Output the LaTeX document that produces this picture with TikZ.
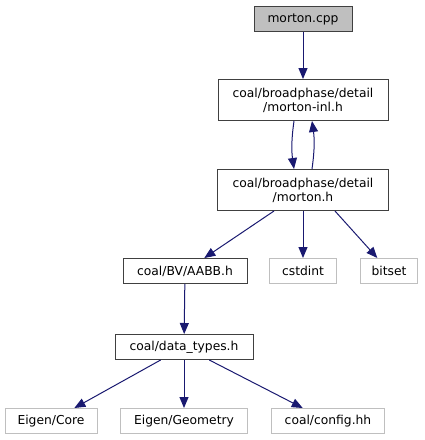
\documentclass[tikz,border=0pt]{standalone}
\usepackage{fontspec}
\setmainfont{DejaVu Sans}
\usetikzlibrary{positioning, arrows.meta}
\definecolor{dEdge}{HTML}{191970}
\definecolor{dGray}{HTML}{BFBFBF}
\definecolor{dLight}{HTML}{BFBFBF}

\begin{document}
\begin{tikzpicture}[
  x=1pt, y=-1pt,
  every node/.style={font=\fontsize{12.3pt}{14pt}\selectfont, inner sep=0pt, align=center},
  fb/.style={draw=black!75, fill=white, line width=1pt, minimum height=25pt},
  fs/.style={fb, minimum height=41pt},
  ext/.style={draw=dLight, fill=white, line width=1pt, minimum height=25pt},
  cur/.style={fb, fill=dGray},
  ed/.style={dEdge, line width=1pt, -{Triangle[length=11pt, width=9pt]}},
]
  % Background
  \useasboundingbox (0,0) rectangle (425,440);

  % Source file and detail headers
  \node[cur, minimum width=98pt] (cpp) at (303,19) {morton.cpp};
  \node[fs, minimum width=170pt] (inl) at (303,100) {coal/broadphase/detail\\/morton-inl.h};
  \node[fs, minimum width=171pt] (mh) at (303,190) {coal/broadphase/detail\\/morton.h};

  % Second level
  \node[fb, minimum width=124pt] (aabb) at (185,271) {coal/BV/AABB.h};
  \node[ext, minimum width=67pt] (cstdint) at (303,271) {cstdint};
  \node[ext, minimum width=57pt] (bitset) at (389,271) {bitset};

  % Data types and its includes
  \node[fb, minimum width=138pt] (dtypes) at (184,347) {coal/data\_types.h};
  \node[ext, minimum width=92pt] (core) at (51,421) {Eigen/Core};
  \node[ext, minimum width=127pt] (geom) at (184,421) {Eigen/Geometry};
  \node[ext, minimum width=113pt] (config) at (328,421) {coal/config.hh};

  % Edges
  \draw[ed] (cpp) -- (inl);
  \draw[ed] ([xshift=-9pt]inl.south) to[bend right=8] ([xshift=-9pt]mh.north);
  \draw[ed] ([xshift=9pt]mh.north) to[bend right=8] ([xshift=9pt]inl.south);
  \draw[ed] ([xshift=57pt]mh.south west) -- (aabb);
  \draw[ed] (mh) -- (cstdint);
  \draw[ed] ([xshift=-54pt]mh.south east) -- (bitset);
  \draw[ed] (aabb) -- (dtypes);
  \foreach \t in {core, geom, config} {
    \draw[ed] (dtypes) -- (\t);
  }
\end{tikzpicture}
\end{document}
